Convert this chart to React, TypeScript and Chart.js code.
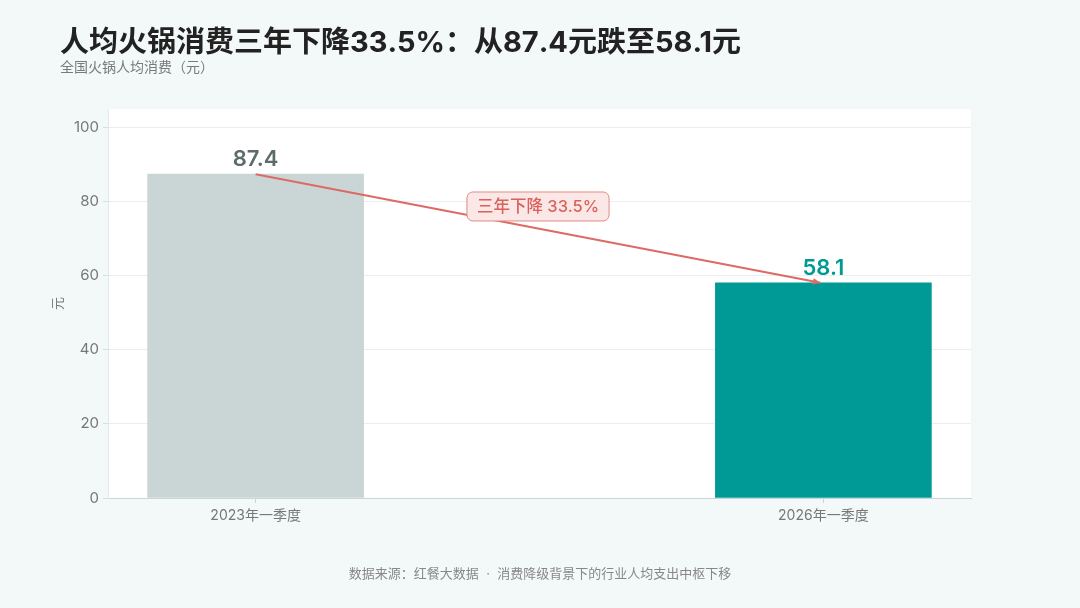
import { Chart, registerables } from "chart.js";
import { useEffect, useRef } from "react";

Chart.register(...registerables);

const categories = ["2023年一季度", "2026年一季度"];
const values = [87.4, 58.1];
const barColors = ["#c9d6d5", "#009a96"];
const labelColors = ["#5f6b6b", "#009a96"];
const yTicks = [0, 20, 40, 60, 80, 100];
const changeLabel = "三年下降 33.5%";

const FONT = 'Inter, "Noto Sans CJK SC", sans-serif';

const decor = {
    id: "decor",
    beforeDraw(chart: Chart) {
        const { ctx, chartArea: a } = chart;
        ctx.save();
        ctx.fillStyle = "#f3f8f8";
        ctx.fillRect(0, 0, chart.width, chart.height);
        ctx.fillStyle = "#ffffff";
        ctx.fillRect(a.left, a.top, a.right - a.left, a.bottom - a.top);

        ctx.textBaseline = "middle";
        ctx.fillStyle = "#222222";
        ctx.font = `bold 29px ${FONT}`;
        ctx.fillText("人均火锅消费三年下降33.5%：从87.4元跌至58.1元", 60, 43);
        ctx.fillStyle = "#7a7a7a";
        ctx.font = `14px ${FONT}`;
        ctx.fillText("全国火锅人均消费（元）", 60, 68);
        ctx.textAlign = "center";
        ctx.fillStyle = "#888888";
        ctx.font = `13px ${FONT}`;
        ctx.fillText("数据来源：红餐大数据  ·  消费降级背景下的行业人均支出中枢下移", 540, 574);
        ctx.restore();
    },
    afterDatasetsDraw(chart: Chart) {
        const { ctx } = chart;
        const x = chart.scales.x;
        const y = chart.scales.y;
        ctx.save();

        // arrow between bar tops
        const x0 = x.getPixelForValue(0);
        const y0 = y.getPixelForValue(values[0]);
        const x1 = x.getPixelForValue(1) - 3;
        const y1 = y.getPixelForValue(values[1]);
        ctx.strokeStyle = "#dd6a64";
        ctx.fillStyle = "#dd6a64";
        ctx.lineWidth = 2;
        ctx.beginPath();
        ctx.moveTo(x0, y0);
        ctx.lineTo(x1, y1);
        ctx.stroke();
        const ang = Math.atan2(y1 - y0, x1 - x0);
        ctx.beginPath();
        ctx.moveTo(x1, y1);
        ctx.lineTo(x1 - 8 * Math.cos(ang - 0.4), y1 - 8 * Math.sin(ang - 0.4));
        ctx.lineTo(x1 - 8 * Math.cos(ang + 0.4), y1 - 8 * Math.sin(ang + 0.4));
        ctx.closePath();
        ctx.fill();

        // change label box
        const mx = (x0 + x1) / 2;
        const my = (y0 + y1) / 2 - 22;
        ctx.font = `500 16.5px ${FONT}`;
        const w = ctx.measureText(changeLabel).width + 20;
        const h = 29;
        ctx.beginPath();
        ctx.roundRect(mx - w / 2, my - h / 2, w, h, 6);
        ctx.fillStyle = "#fbe7e5";
        ctx.fill();
        ctx.lineWidth = 1;
        ctx.strokeStyle = "#e08a86";
        ctx.stroke();
        ctx.fillStyle = "#d9625c";
        ctx.textAlign = "center";
        ctx.textBaseline = "middle";
        ctx.fillText(changeLabel, mx, my + 1);

        // value labels
        ctx.font = `600 22px ${FONT}`;
        ctx.textBaseline = "alphabetic";
        values.forEach((v, i) => {
            ctx.fillStyle = labelColors[i];
            ctx.fillText(v.toFixed(1), x.getPixelForValue(i), y.getPixelForValue(v) - 8);
        });
        ctx.restore();
    },
};

const App = () => {
    const chartRef = useRef<HTMLCanvasElement>(null);

    useEffect(() => {
        document.body.style.margin = "0";
        if (!chartRef.current) return;
        const chart = new Chart(chartRef.current, {
            type: "bar",
            data: {
                datasets: [
                    {
                        data: values.map((v, i) => ({ x: i, y: v })),
                        backgroundColor: barColors,
                        barThickness: 216,
                        borderWidth: 0,
                    },
                ],
            },
            options: {
                responsive: false,
                animation: false,
                layout: { padding: { left: 50, right: 109, top: 109, bottom: 70 } },
                plugins: { legend: { display: false }, tooltip: { enabled: false } },
                scales: {
                    x: {
                        type: "linear",
                        offset: false,
                        min: -0.26,
                        max: 1.26,
                        afterBuildTicks: (s: any) => {
                            s.ticks = categories.map((_, i) => ({ value: i }));
                        },
                        afterFit: (s: any) => {
                            s.height = 40;
                        },
                        ticks: {
                            callback: (v: any) => categories[v] ?? "",
                            color: "#777777",
                            font: { family: FONT, size: 14 },
                            padding: 4,
                            maxRotation: 0,
                        },
                        grid: { offset: false, drawOnChartArea: false, drawTicks: true, tickLength: 5, color: "#c9d6d5" },
                        border: { color: "#c9d6d5", width: 1 },
                    },
                    y: {
                        min: 0,
                        max: 105,
                        afterBuildTicks: (s: any) => {
                            s.ticks = yTicks.map((v) => ({ value: v }));
                        },
                        afterFit: (s: any) => {
                            s.width = 58;
                        },
                        ticks: {
                            color: "#777777",
                            font: { family: FONT, size: 15 },
                            padding: 4,
                        },
                        title: {
                            display: true,
                            text: "元",
                            color: "#777777",
                            font: { family: FONT, size: 13 },
                            padding: 0,
                        },
                        grid: { color: "#eaeeee", tickLength: 5, tickColor: "#d6dede" },
                        border: { color: "#e3e9e9", width: 1 },
                    },
                },
            },
            plugins: [decor],
        });
        return () => {
            chart.destroy();
        };
    }, []);

    return <canvas ref={chartRef} width={1080} height={608} style={{ display: "block" }} />;
};

export default App;
